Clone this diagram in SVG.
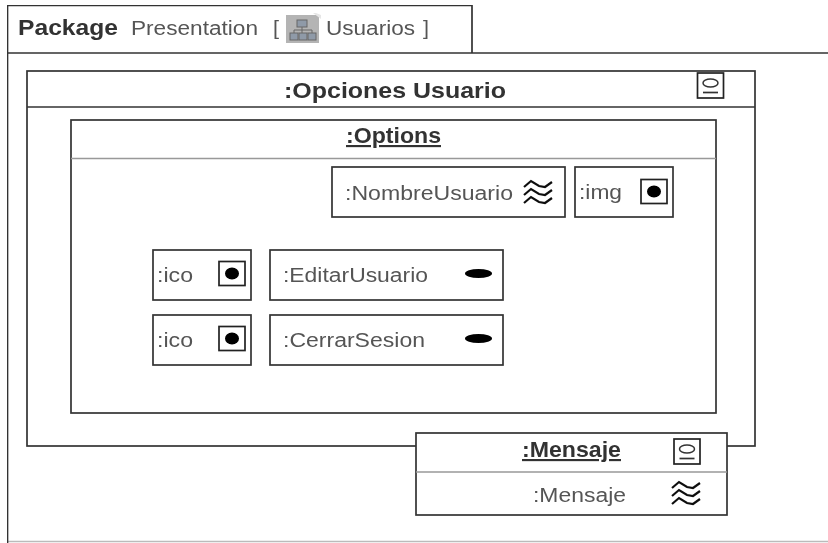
<svg xmlns="http://www.w3.org/2000/svg" width="828" height="543" viewBox="0 0 828 543">
<defs>
<style>
.b{fill:#fff;stroke:#333;stroke-width:1.7}
.l{fill:none;stroke:#333;stroke-width:1.7}
.g{fill:none;stroke:#999;stroke-width:1.7}
.t{font-family:"Liberation Sans",Arial,sans-serif;font-size:20px;fill:#555}
.h{font-family:"Liberation Sans",Arial,sans-serif;font-size:21.500px;font-weight:bold;fill:#333}
.w{fill:none;stroke:#111;stroke-width:2.200}
</style>
<filter id="soft" x="0" y="0" width="100%" height="100%"><feGaussianBlur stdDeviation="0.6"/></filter>
<g id="waves"><path class="w" d="M-14,-5 L-7,-11 L1,-6 L7,-5 L14,-10"/><path class="w" d="M-14,3 L-7,-3 L1,2 L7,3 L14,-2"/><path class="w" d="M-14,11 L-7,5 L1,10 L7,11 L14,6"/></g>
<g id="port"><rect x="-13" y="-12" width="26" height="24" fill="#fff" stroke="#222" stroke-width="1.7"/><ellipse cx="0" cy="0" rx="7" ry="6" fill="#000"/></g>
<g id="comp"><rect x="-13" y="-12.500" width="26" height="25" fill="#fff" stroke="#222" stroke-width="1.7"/><ellipse cx="0" cy="-2.500" rx="7.500" ry="4" fill="#fff" stroke="#333" stroke-width="1.500"/><path d="M-7.500,7H7.500" stroke="#333" stroke-width="1.700"/></g>
</defs>
<rect width="828" height="543" fill="#fff"/>
<g filter="url(#soft)">
<g id="frame">
<path d="M7,541.500H828" fill="none" stroke="#bbb" stroke-width="1.500"/>
<path class="l" d="M7,53H828"/>
<path class="l" d="M7.500,543V5.500H472V53"/>
<text class="h" x="18" y="35" textLength="100" lengthAdjust="spacingAndGlyphs">Package</text>
<text class="t" x="131" y="35" textLength="127" lengthAdjust="spacingAndGlyphs">Presentation</text>
<text class="t" x="273" y="35" textLength="6" lengthAdjust="spacingAndGlyphs">[</text>
<text class="t" x="326" y="35" textLength="89" lengthAdjust="spacingAndGlyphs">Usuarios</text>
<text class="t" x="423" y="35" textLength="6" lengthAdjust="spacingAndGlyphs">]</text>
<g id="pkg-icon">
<rect x="286" y="15" width="33" height="28" fill="#b4b4b4"/>
<path d="M313,13L321,19V15L316,13Z" fill="#e6e6e6"/>
<rect x="297" y="20" width="10" height="7" fill="#8f9aa8" stroke="#666"/>
<rect x="290" y="33" width="8" height="7" fill="#8f9aa8" stroke="#666"/>
<rect x="299" y="33" width="8" height="7" fill="#8f9aa8" stroke="#666"/>
<rect x="308" y="33" width="8" height="7" fill="#8f9aa8" stroke="#666"/>
<path d="M302,27V33M294,33V30H312V33" fill="none" stroke="#666"/>
</g>
</g>
<g id="opciones-usuario">
<rect class="b" x="27" y="71" width="728" height="375"/>
<path class="l" d="M27,107H755"/>
<text class="h" x="284" y="98" textLength="222" lengthAdjust="spacingAndGlyphs">:Opciones Usuario</text>
<use href="#comp" transform="translate(710.500,85.500)"/>
</g>
<g id="options">
<rect class="b" x="71" y="120" width="645" height="293"/>
<path class="g" d="M71,158.500H716"/>
<text class="h" x="346" y="143" textLength="95" lengthAdjust="spacingAndGlyphs" text-decoration="underline">:Options</text>
</g>
<g id="nombre-usuario">
<rect class="b" x="332" y="167" width="233" height="50"/>
<text class="t" x="345" y="200" textLength="168" lengthAdjust="spacingAndGlyphs">:NombreUsuario</text>
<use href="#waves" transform="translate(538,192)"/>
</g>
<g id="img">
<rect class="b" x="575" y="167" width="98" height="50"/>
<text class="t" x="579" y="199" textLength="43" lengthAdjust="spacingAndGlyphs">:img</text>
<use href="#port" transform="translate(654,191.500)"/>
</g>
<g id="ico-1">
<rect class="b" x="153" y="250" width="98" height="50"/>
<text class="t" x="157" y="282" textLength="36" lengthAdjust="spacingAndGlyphs">:ico</text>
<use href="#port" transform="translate(232,273.500)"/>
</g>
<g id="editar-usuario">
<rect class="b" x="270" y="250" width="233" height="50"/>
<text class="t" x="283" y="282" textLength="145" lengthAdjust="spacingAndGlyphs">:EditarUsuario</text>
<ellipse cx="478.500" cy="273.500" rx="13.500" ry="4.500" fill="#000"/>
</g>
<g id="ico-2">
<rect class="b" x="153" y="315" width="98" height="50"/>
<text class="t" x="157" y="347" textLength="36" lengthAdjust="spacingAndGlyphs">:ico</text>
<use href="#port" transform="translate(232,338.500)"/>
</g>
<g id="cerrar-sesion">
<rect class="b" x="270" y="315" width="233" height="50"/>
<text class="t" x="283" y="347" textLength="142" lengthAdjust="spacingAndGlyphs">:CerrarSesion</text>
<ellipse cx="478.500" cy="338.500" rx="13.500" ry="4.500" fill="#000"/>
</g>
<g id="mensaje">
<rect class="b" x="416" y="433" width="311" height="82"/>
<path class="g" d="M416,472H727"/>
<text class="h" x="522" y="457" textLength="99" lengthAdjust="spacingAndGlyphs" text-decoration="underline">:Mensaje</text>
<use href="#comp" transform="translate(687,451.500)"/>
<text class="t" x="533" y="502" textLength="93" lengthAdjust="spacingAndGlyphs">:Mensaje</text>
<use href="#waves" transform="translate(686,493)"/>
</g>
<g id="connectors"/>
</g>
</svg>
